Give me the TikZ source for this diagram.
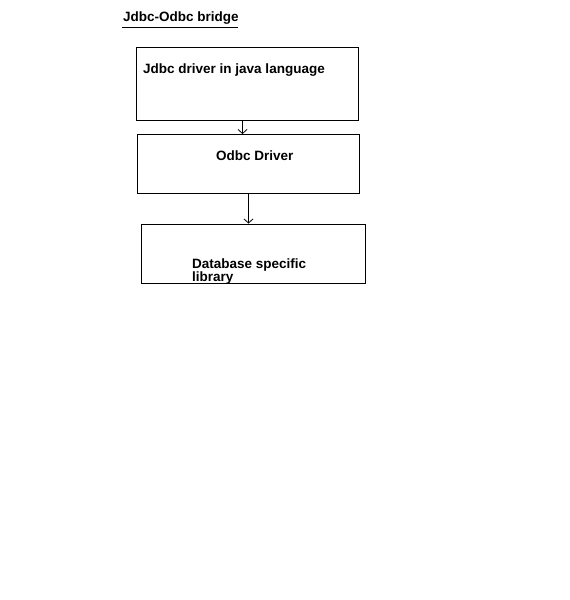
\documentclass[tikz,border=0pt]{standalone}
\usepackage{fontspec}
\setmainfont{Liberation Sans}
\usetikzlibrary{arrows.meta}

\tikzset{
  box/.style={draw, line width=1pt, inner sep=0pt, anchor=north west},
  lbl/.style={anchor=base west, inner sep=0pt, font=\fontsize{13.5}{15}\selectfont\bfseries},
  arr/.style={line width=1pt, -{Straight Barb[length=4pt,width=9pt,line width=0.8pt]}}
}

\begin{document}
\begin{tikzpicture}[x=1pt,y=-1pt]
			\useasboundingbox[fill=white] (0,0) rectangle (570,600);
			% title
			\node (title) at (123,21.5) [lbl] {Jdbc-Odbc bridge};
			\draw[line width=1pt] (122,27.5) -- (238,27.5);
			% boxes
			\node (jdbc) at (136,47) [box, minimum width=222pt, minimum height=73pt] {};
			\node at (143,73) [lbl] {Jdbc driver in java language};
			\node (odbc) at (137,134) [box, minimum width=222pt, minimum height=59pt] {};
			\node at (216,160) [lbl] {Odbc Driver};
			\node (dblib) at (140.5,223.5) [box, minimum width=224pt, minimum height=59pt] {};
			\node at (192,268) [lbl] {Database specific};
			\node at (192,281.5) [lbl] {library};
			% connectors
			\draw[arr] ([xshift=-5pt]jdbc.south) -- ([xshift=-6pt]odbc.north);
			\draw[arr] (odbc.south) -- ([xshift=-4.5pt]dblib.north);
			\end{tikzpicture}
\end{document}
